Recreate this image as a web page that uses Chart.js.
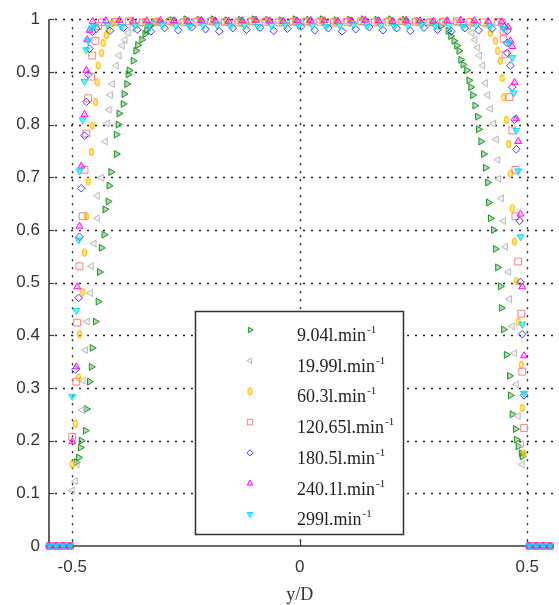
<!DOCTYPE html>
<html>
<head>
<meta charset="utf-8">
<script src="https://cdn.jsdelivr.net/npm/chart.js@4/dist/chart.umd.min.js"></script>
<style>
  html, body { margin: 0; padding: 0; background: #fff; }
</style>
</head>
<body>
<canvas id="profile" width="559" height="605"></canvas>
<script>
// flow rates (l/min) used in the legend
const flowRates = ['9.04', '19.99', '60.3', '120.65', '180.5', '240.1', '299'];

// tick labels
const xTicks = [-0.5, 0, 0.5];
const yTicks = [0, 0.1, 0.2, 0.3, 0.4, 0.5, 0.6, 0.7, 0.8, 0.9, 1];

// [y/D, u/U], one array per flow rate
const q904 = [
  [-0.55, 0], [-0.535, 0], [-0.52, 0], [-0.505, 0],
  [-0.491, 0.159], [-0.486, 0.168], [-0.482, 0.187], [-0.48, 0.2], [-0.471, 0.219], [-0.469, 0.26],
  [-0.462, 0.312], [-0.458, 0.34], [-0.456, 0.376], [-0.449, 0.426], [-0.443, 0.464], [-0.44, 0.52],
  [-0.436, 0.566], [-0.43, 0.591], [-0.428, 0.639], [-0.421, 0.654], [-0.419, 0.684], [-0.415, 0.71],
  [-0.403, 0.744], [-0.403, 0.781], [-0.399, 0.8], [-0.397, 0.821], [-0.388, 0.839], [-0.386, 0.858],
  [-0.38, 0.877], [-0.377, 0.895], [-0.375, 0.903], [-0.366, 0.921], [-0.36, 0.94], [-0.356, 0.951],
  [-0.347, 0.961], [-0.34, 0.972], [-0.336, 0.979], [-0.329, 0.987], [-0.321, 0.993],
  [-0.31, 0.996], [-0.28, 0.998], [-0.25, 1.0], [-0.22, 0.999], [-0.19, 1.0], [-0.16, 0.998],
  [-0.13, 0.999], [-0.1, 1.0], [-0.07, 0.999], [-0.04, 0.998], [-0.01, 1.0], [0.02, 0.999],
  [0.05, 1.0], [0.08, 0.998], [0.11, 0.999], [0.14, 1.0], [0.17, 0.999], [0.2, 1.0],
  [0.23, 0.999], [0.26, 0.997], [0.29, 0.994],
  [0.31, 0.987], [0.326, 0.978], [0.332, 0.968], [0.339, 0.959], [0.345, 0.95], [0.35, 0.94],
  [0.354, 0.923], [0.359, 0.914], [0.367, 0.903], [0.372, 0.884], [0.376, 0.871], [0.38, 0.856],
  [0.385, 0.836], [0.391, 0.815], [0.393, 0.791], [0.398, 0.768], [0.404, 0.744], [0.408, 0.718],
  [0.413, 0.69], [0.415, 0.652], [0.419, 0.622], [0.426, 0.6], [0.43, 0.564], [0.435, 0.529],
  [0.441, 0.493], [0.443, 0.452], [0.448, 0.411], [0.454, 0.363], [0.461, 0.323], [0.463, 0.286],
  [0.467, 0.25], [0.474, 0.222], [0.476, 0.202], [0.48, 0.189], [0.487, 0.176], [0.489, 0.17],
  [0.505, 0], [0.52, 0], [0.535, 0], [0.55, 0]
];

const q1999 = [
  [-0.55, 0], [-0.535, 0], [-0.52, 0], [-0.505, 0],
  [-0.5, 0.105], [-0.493, 0.123], [-0.489, 0.155], [-0.478, 0.258], [-0.476, 0.314], [-0.471, 0.372],
  [-0.467, 0.426], [-0.46, 0.48], [-0.458, 0.531], [-0.452, 0.574], [-0.445, 0.622], [-0.445, 0.665],
  [-0.436, 0.699], [-0.427, 0.768], [-0.423, 0.802], [-0.419, 0.828], [-0.416, 0.856], [-0.412, 0.877],
  [-0.403, 0.912], [-0.397, 0.931], [-0.39, 0.95], [-0.384, 0.961], [-0.377, 0.974], [-0.369, 0.983],
  [-0.36, 0.989],
  [-0.35, 0.993], [-0.32, 0.995], [-0.29, 0.997], [-0.26, 0.996], [-0.23, 0.998], [-0.2, 0.997],
  [-0.17, 0.995], [-0.14, 0.997], [-0.11, 0.996], [-0.08, 0.998], [-0.05, 0.997], [-0.02, 0.995],
  [0.01, 0.997], [0.04, 0.998], [0.07, 0.996], [0.1, 0.997], [0.13, 0.995], [0.16, 0.997],
  [0.19, 0.998], [0.22, 0.996], [0.25, 0.997], [0.28, 0.995], [0.31, 0.996], [0.34, 0.994],
  [0.36, 0.99],
  [0.371, 0.987], [0.378, 0.974], [0.385, 0.961], [0.391, 0.946], [0.395, 0.931], [0.402, 0.912],
  [0.408, 0.879], [0.413, 0.856], [0.419, 0.83], [0.426, 0.802], [0.432, 0.772], [0.435, 0.733],
  [0.437, 0.697], [0.443, 0.66], [0.448, 0.617], [0.452, 0.568], [0.459, 0.52], [0.461, 0.469],
  [0.467, 0.417], [0.472, 0.366], [0.476, 0.307], [0.48, 0.247], [0.487, 0.193], [0.489, 0.155],
  [0.505, 0], [0.52, 0], [0.535, 0], [0.55, 0]
];

const q603 = [
  [-0.55, 0], [-0.535, 0], [-0.52, 0], [-0.505, 0],
  [-0.5, 0.155], [-0.493, 0.232], [-0.486, 0.32], [-0.484, 0.402], [-0.477, 0.482], [-0.473, 0.557],
  [-0.469, 0.626], [-0.465, 0.692], [-0.458, 0.748], [-0.456, 0.798], [-0.449, 0.843], [-0.445, 0.88],
  [-0.443, 0.912], [-0.436, 0.936], [-0.432, 0.955], [-0.425, 0.97], [-0.421, 0.981], [-0.412, 0.993],
  [-0.4, 0.995], [-0.37, 0.996], [-0.34, 0.994], [-0.31, 0.995], [-0.28, 0.993], [-0.25, 0.995],
  [-0.22, 0.996], [-0.19, 0.994], [-0.16, 0.995], [-0.13, 0.993], [-0.1, 0.995], [-0.07, 0.996],
  [-0.04, 0.994], [-0.01, 0.995], [0.02, 0.994], [0.05, 0.996], [0.08, 0.995], [0.11, 0.993],
  [0.14, 0.995], [0.17, 0.994], [0.2, 0.996], [0.23, 0.995], [0.26, 0.994], [0.29, 0.995],
  [0.32, 0.996], [0.35, 0.994], [0.38, 0.993], [0.41, 0.99],
  [0.419, 0.974], [0.43, 0.959], [0.435, 0.94], [0.441, 0.921], [0.445, 0.888], [0.448, 0.852],
  [0.454, 0.809], [0.459, 0.763], [0.463, 0.707], [0.467, 0.641], [0.472, 0.578], [0.476, 0.503],
  [0.48, 0.426], [0.487, 0.344], [0.489, 0.262], [0.493, 0.176],
  [0.505, 0], [0.52, 0], [0.535, 0], [0.55, 0]
];

const q12065 = [
  [-0.55, 0], [-0.535, 0], [-0.52, 0], [-0.505, 0],
  [-0.5, 0.207], [-0.491, 0.312], [-0.489, 0.424], [-0.484, 0.531], [-0.477, 0.626], [-0.473, 0.714],
  [-0.469, 0.783], [-0.465, 0.85], [-0.458, 0.891], [-0.456, 0.931], [-0.449, 0.959], [-0.443, 0.987],
  [-0.435, 0.994], [-0.405, 0.995], [-0.375, 0.996], [-0.345, 0.994], [-0.315, 0.995], [-0.285, 0.996],
  [-0.255, 0.994], [-0.225, 0.995], [-0.195, 0.996], [-0.165, 0.995], [-0.135, 0.994], [-0.105, 0.996],
  [-0.075, 0.995], [-0.045, 0.994], [-0.015, 0.995], [0.015, 0.996], [0.045, 0.995], [0.075, 0.994],
  [0.105, 0.995], [0.135, 0.996], [0.165, 0.994], [0.195, 0.995], [0.225, 0.996], [0.255, 0.995],
  [0.285, 0.994], [0.315, 0.995], [0.345, 0.996], [0.375, 0.995], [0.405, 0.994], [0.435, 0.995],
  [0.445, 0.993], [0.448, 0.978], [0.448, 0.963], [0.452, 0.933], [0.461, 0.852], [0.467, 0.789],
  [0.474, 0.714], [0.474, 0.626], [0.48, 0.54], [0.487, 0.441], [0.489, 0.331], [0.493, 0.224],
  [0.505, 0], [0.52, 0], [0.535, 0], [0.55, 0]
];

const q1805 = [
  [-0.55, 0], [-0.535, 0], [-0.52, 0], [-0.505, 0],
  [-0.493, 0.335], [-0.486, 0.471], [-0.484, 0.587], [-0.48, 0.679], [-0.473, 0.779], [-0.469, 0.843],
  [-0.465, 0.895], [-0.462, 0.944], [-0.456, 0.976],
  [-0.447, 0.982], [-0.417, 0.978], [-0.387, 0.984], [-0.357, 0.98], [-0.327, 0.977], [-0.297, 0.983],
  [-0.267, 0.979], [-0.237, 0.985], [-0.207, 0.981], [-0.177, 0.977], [-0.147, 0.983], [-0.117, 0.98],
  [-0.087, 0.984], [-0.057, 0.978], [-0.027, 0.982], [0.003, 0.986], [0.033, 0.979], [0.063, 0.983],
  [0.093, 0.977], [0.123, 0.981], [0.153, 0.985], [0.183, 0.979], [0.213, 0.983], [0.243, 0.978],
  [0.273, 0.984], [0.303, 0.98], [0.333, 0.977], [0.363, 0.983], [0.393, 0.979], [0.423, 0.982],
  [0.45, 0.985],
  [0.456, 0.978], [0.456, 0.955], [0.456, 0.936], [0.463, 0.912], [0.467, 0.871], [0.472, 0.809],
  [0.476, 0.753], [0.483, 0.617], [0.485, 0.501], [0.489, 0.402], [0.493, 0.286],
  [0.505, 0], [0.52, 0], [0.535, 0], [0.55, 0]
];

const q2401 = [
  [-0.55, 0], [-0.535, 0], [-0.52, 0], [-0.505, 0],
  [-0.5, 0.198], [-0.491, 0.34], [-0.489, 0.492], [-0.484, 0.607], [-0.48, 0.721], [-0.473, 0.819],
  [-0.469, 0.903], [-0.467, 0.961], [-0.462, 0.979],
  [-0.455, 0.996], [-0.426, 0.997], [-0.396, 0.998], [-0.366, 0.996], [-0.336, 0.997], [-0.306, 0.998],
  [-0.276, 0.997], [-0.246, 0.996], [-0.216, 0.998], [-0.186, 0.997], [-0.156, 0.996], [-0.126, 0.997],
  [-0.096, 0.998], [-0.066, 0.997], [-0.036, 0.996], [-0.006, 0.997], [0.024, 0.998], [0.054, 0.997],
  [0.084, 0.996], [0.114, 0.997], [0.144, 0.998], [0.174, 0.997], [0.204, 0.996], [0.234, 0.998],
  [0.264, 0.997], [0.294, 0.996], [0.324, 0.997], [0.354, 0.998], [0.384, 0.997], [0.414, 0.996],
  [0.444, 0.995], [0.458, 0.985],
  [0.463, 0.959], [0.467, 0.948], [0.472, 0.88], [0.476, 0.811], [0.48, 0.768], [0.485, 0.63],
  [0.489, 0.492], [0.493, 0.361],
  [0.505, 0], [0.52, 0], [0.535, 0], [0.55, 0]
];

const q299 = [
  [-0.55, 0], [-0.535, 0], [-0.52, 0], [-0.505, 0],
  [-0.5, 0.284], [-0.491, 0.447], [-0.486, 0.581], [-0.484, 0.712], [-0.477, 0.809], [-0.473, 0.882],
  [-0.469, 0.942], [-0.465, 0.959], [-0.458, 0.983],
  [-0.452, 0.987], [-0.422, 0.989], [-0.392, 0.986], [-0.362, 0.988], [-0.332, 0.987], [-0.302, 0.989],
  [-0.272, 0.988], [-0.242, 0.986], [-0.212, 0.988], [-0.182, 0.989], [-0.152, 0.987], [-0.122, 0.988],
  [-0.092, 0.986], [-0.062, 0.988], [-0.032, 0.989], [-0.002, 0.987], [0.028, 0.988], [0.058, 0.986],
  [0.088, 0.988], [0.118, 0.989], [0.148, 0.987], [0.178, 0.988], [0.208, 0.986], [0.238, 0.988],
  [0.268, 0.989], [0.298, 0.987], [0.328, 0.988], [0.358, 0.986], [0.388, 0.988], [0.418, 0.987],
  [0.448, 0.982],
  [0.459, 0.955], [0.467, 0.927], [0.47, 0.86], [0.476, 0.789], [0.48, 0.712], [0.485, 0.587],
  [0.489, 0.421], [0.493, 0.29],
  [0.505, 0], [0.52, 0], [0.535, 0], [0.55, 0]
];

const series = [q904, q1999, q603, q12065, q1805, q2401, q299];

// marker look for each flow rate
function ellipseMark(stroke, fill) {
  const c = document.createElement('canvas');
  c.width = 7; c.height = 10;
  const g = c.getContext('2d');
  g.beginPath();
  g.ellipse(3.5, 5, 2, 3.4, 0, 0, Math.PI * 2);
  g.fillStyle = fill; g.fill();
  g.strokeStyle = stroke; g.lineWidth = 1.2; g.stroke();
  return c;
}

const markers = [
  { style: 'triangle', rot: 90, r: 4, stroke: '#1e9124', fill: 'rgba(30,145,36,0.35)' },
  { style: 'triangle', rot: -90, r: 4, stroke: '#b9b9b9', fill: 'rgba(190,190,190,0.15)' },
  { style: ellipseMark('#ffbf00', 'rgba(255,210,60,0.4)'), rot: 0, r: 3, stroke: '#ffbf00', fill: 'rgba(255,210,60,0.4)' },
  { style: 'rect', rot: 0, r: 4.8, stroke: '#ff7d7d', fill: 'rgba(255,255,255,0)' },
  { style: 'rectRot', rot: 0, r: 3.8, stroke: '#3535ff', fill: 'rgba(255,255,255,0)' },
  { style: 'triangle', rot: 0, r: 4, stroke: '#ff00ff', fill: 'rgba(255,0,255,0.2)' },
  { style: 'triangle', rot: 180, r: 4, stroke: '#00d8ff', fill: 'rgba(0,230,255,0.55)' }
];

const frame = {
  id: 'frame',
  beforeDatasetsDraw(chart) {
    const { ctx, chartArea: a, scales: { x, y } } = chart;
    const line = (x1, y1, x2, y2) => { ctx.beginPath(); ctx.moveTo(x1, y1); ctx.lineTo(x2, y2); ctx.stroke(); };
    ctx.save();
    // dotted grid
    ctx.strokeStyle = '#222';
    ctx.lineWidth = 1.4;
    ctx.setLineDash([2, 6]);
    yTicks.forEach(v => {
      if (v === 0) return;
      const py = Math.round(y.getPixelForValue(v)) + 0.5;
      line(a.left + 6, py, a.right, py);
    });
    xTicks.forEach(v => {
      const px = Math.round(x.getPixelForValue(v)) + 0.5;
      line(px, a.top, px, a.bottom);
    });
    ctx.setLineDash([]);
    // axes
    ctx.strokeStyle = '#3c3c3c';
    ctx.lineWidth = 1.6;
    line(a.left, a.top, a.left, a.bottom);
    line(a.left, a.bottom, a.right, a.bottom);
    // inward tick marks
    ctx.lineWidth = 1.2;
    yTicks.forEach(v => {
      const py = Math.round(y.getPixelForValue(v)) + 0.5;
      line(a.left, py, a.left + 5, py);
    });
    xTicks.forEach(v => {
      const px = Math.round(x.getPixelForValue(v)) + 0.5;
      line(px, a.bottom, px, a.bottom - 6);
    });
    ctx.restore();
  },
  afterDraw(chart) {
    const { ctx, scales: { x } } = chart;
    ctx.save();
    ctx.fillStyle = '#333';
    ctx.font = '18px "Liberation Serif"';
    ctx.textAlign = 'center';
    ctx.textBaseline = 'alphabetic';
    ctx.fillText('y/D', x.getPixelForValue(0), 600);
    ctx.restore();
  }
};

const legendBox = {
  id: 'legendBox',
  afterDatasetsDraw(chart) {
    const ctx = chart.ctx;
    ctx.save();
    ctx.fillStyle = '#fff';
    ctx.fillRect(195, 311, 208, 223);
    ctx.strokeStyle = '#333';
    ctx.lineWidth = 1.5;
    ctx.strokeRect(195.5, 311.5, 208, 223);
    markers.forEach((m, i) => {
      const cy = 330 + i * 30.7;
      ctx.strokeStyle = m.stroke;
      ctx.fillStyle = m.fill;
      ctx.lineWidth = 1;
      Chart.helpers.drawPoint(ctx, { pointStyle: m.style, rotation: m.rot, radius: m.r * 0.8, borderWidth: 1 }, 250, cy);
      ctx.fillStyle = '#222';
      ctx.textAlign = 'left';
      ctx.textBaseline = 'alphabetic';
      ctx.font = '18px "Liberation Serif"';
      const txt = flowRates[i] + 'l.min';
      ctx.fillText(txt, 297, cy + 11);
      const w = ctx.measureText(txt).width;
      ctx.font = '11px "Liberation Serif"';
      ctx.fillText('-1', 297 + w + 1, cy + 3);
    });
    ctx.restore();
  }
};

new Chart(document.getElementById('profile').getContext('2d'), {
  type: 'scatter',
  data: {
    datasets: series.map((pts, i) => ({
      label: flowRates[i] + 'l.min-1',
      data: pts.map(([x, y]) => ({ x, y })),
      pointStyle: markers[i].style,
      pointRotation: markers[i].rot,
      pointRadius: markers[i].r,
      pointBorderColor: markers[i].stroke,
      pointBackgroundColor: markers[i].fill,
      pointBorderWidth: 1,
      showLine: false,
      clip: false,
      order: series.length - i
    }))
  },
  options: {
    responsive: false,
    animation: false,
    events: [],
    devicePixelRatio: 1,
    layout: { padding: { top: 11, right: 0, bottom: 0, left: 0 } },
    plugins: { legend: { display: false }, tooltip: { enabled: false } },
    scales: {
      x: {
        type: 'linear',
        min: -0.551,
        max: 0.557,
        afterFit: s => { s.height = 59; },
        afterBuildTicks: s => { s.ticks = xTicks.map(v => ({ value: v })); },
        grid: { display: false, drawTicks: false },
        border: { display: false },
        ticks: {
          autoSkip: false, maxRotation: 0, padding: 11,
          color: '#333', font: { family: 'Liberation Sans', size: 17 },
          callback: v => String(v)
        }
      },
      y: {
        min: 0,
        max: 1,
        afterFit: s => { s.width = 49; },
        afterBuildTicks: s => { s.ticks = yTicks.map(v => ({ value: v })); },
        grid: { display: false, drawTicks: false },
        border: { display: false },
        ticks: {
          padding: 9,
          color: '#333', font: { family: 'Liberation Sans', size: 17 },
          callback: v => String(Math.round(v * 10) / 10)
        }
      }
    }
  },
  plugins: [frame, legendBox]
});
</script>
</body>
</html>
